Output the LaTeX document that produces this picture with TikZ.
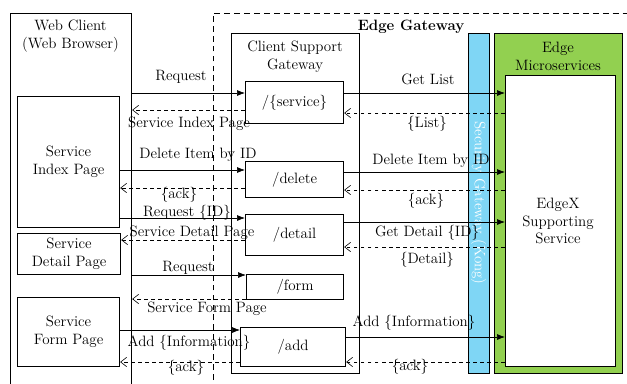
\documentclass[tikz,border=0pt]{standalone}
\usepackage{tikz}
\usetikzlibrary{arrows.meta}

\definecolor{secblue}{RGB}{127,214,245}
\definecolor{msgreen}{RGB}{146,208,80}
\def\pxu{0.03cm}

\tikzset{
  box/.style={draw,line width=1pt,fill=white,anchor=north west,inner sep=0pt},
  req/.style={-{Latex[length=2.4mm,width=1.8mm]},line width=0.6pt},
  resp/.style={-{Straight Barb[length=1.8mm,width=2.8mm]},dashed,line width=0.5pt},
  lbl/.style={inner sep=0pt,align=center}
}

\begin{document}
\begin{tikzpicture}[x=0.03cm,y=-0.03cm,font=\fontsize{12.8}{15.3}\selectfont]
 \useasboundingbox (0,0) rectangle (627,383);

 % web client
 \node[box,minimum width=121*\pxu,minimum height=380*\pxu] (client) at (10,13) {};
 \node[lbl] (clienttitle) at (70.5,36) {Web Client\\(Web Browser)};

 % edge gateway
 \draw[dash pattern=on 5pt off 3.5pt,line width=0.8pt] (213,400) -- (213,13) -- (640,13);
 \node[lbl,font=\fontsize{12.8}{15.3}\selectfont\bfseries] (egtitle) at (411,27) {Edge Gateway};

 % client support gateway
 \node[box,minimum width=128*\pxu,minimum height=340*\pxu] (csg) at (231,33) {};
 \node[lbl] (csgtitle) at (295,57) {Client Support\\Gateway};

 % security gateway
 \node[box,fill=secblue,minimum width=21*\pxu,minimum height=340*\pxu] (sec) at (468,33) {};
 \node[lbl,rotate=-90,white] (sectitle) at (478.5,203) {Security Gateway (Kong)};

 % edge microservices
 \node[box,fill=msgreen,minimum width=128*\pxu,minimum height=340*\pxu] (edge) at (494,33) {};
 \node[lbl] (edgetitle) at (558,56.5) {Edge\\Microservices};
 \node[box,minimum width=110*\pxu,minimum height=291*\pxu] (ms) at (505,75) {};
 \node[lbl] (mstitle) at (558,221) {EdgeX\\Supporting\\Service};

 % pages
 \node[box,minimum width=102*\pxu,minimum height=131*\pxu] (sip) at (17,96) {};
 \node[lbl] at (sip.center) {Service\\Index Page};
 \node[box,minimum width=103*\pxu,minimum height=41*\pxu] (sdp) at (17,233) {};
 \node[lbl] at (sdp.center) {Service\\Detail Page};
 \node[box,minimum width=102*\pxu,minimum height=69*\pxu] (sfp) at (17,297) {};
 \node[lbl] at (sfp.center) {Service\\Form Page};

 % gateway routes
 \node[box,minimum width=98*\pxu,minimum height=42*\pxu] (svc) at (245,81) {};
 \node[lbl] at (svc.center) {/\{service\}};
 \node[box,minimum width=98*\pxu,minimum height=36*\pxu] (del) at (245,161) {};
 \node[lbl] at (del.center) {/delete};
 \node[box,minimum width=98*\pxu,minimum height=41*\pxu] (det) at (245,214) {};
 \node[lbl] at (det.center) {/detail};
 \node[box,minimum width=97*\pxu,minimum height=25*\pxu] (form) at (246,274) {};
 \node[lbl] at (form.center) {/form};
 \node[box,minimum width=105*\pxu,minimum height=39*\pxu] (add) at (240,327) {};
 \node[lbl] at (add.center) {/add};

 % service list
 \draw[req] (client.east |- 0,93) -- (svc.west |- 0,93);
 \node[lbl] at (181,77) {Request};
 \draw[resp] (svc.west |- 0,110) -- (client.east |- 0,110);
 \node[lbl] at (189,124) {Service Index Page};
 \draw[req] (svc.east |- 0,93) -- (ms.west |- 0,93);
 \node[lbl] at (428,79) {Get List};
 \draw[resp] (ms.west |- 0,113) -- (svc.east |- 0,113);
 \node[lbl] at (427,124) {\{List\}};

 % delete
 \draw[req] (sip.east |- 0,170) -- (del.west |- 0,170);
 \node[lbl] at (198,155) {Delete Item by ID};
 \draw[resp] (del.west |- 0,188) -- (sip.east |- 0,188);
 \node[lbl] at (179,195) {\{ack\}};
 \draw[req] (del.east |- 0,172) -- (ms.west |- 0,172);
 \node[lbl] at (431,161) {Delete Item by ID};
 \draw[resp] (ms.west |- 0,190) -- (del.east |- 0,190);
 \node[lbl] at (426,201) {\{ack\}};

 % detail
 \draw[req] (sip.east |- 0,218) -- (det.west |- 0,218);
 \node[lbl] at (187,213) {Request \{ID\}};
 \draw[resp] (det.west |- 0,240) -- (sdp.east |- 0,240);
 \node[lbl] at (192,233) {Service Detail Page};
 \draw[req] (det.east |- 0,222) -- (ms.west |- 0,222);
 \node[lbl] at (427,233) {Get Detail \{ID\}};
 \draw[resp] (ms.west |- 0,247) -- (det.east |- 0,247);
 \node[lbl] at (427,260) {\{Detail\}};

 % form
 \draw[req] (client.east |- 0,275) -- (form.west |- 0,275);
 \node[lbl] at (188,268) {Request};
 \draw[resp] (form.west |- 0,299) -- (client.east |- 0,299);
 \node[lbl] at (207,309) {Service Form Page};

 % add
 \draw[req] (sfp.east |- 0,330) -- (add.west |- 0,330);
 \node[lbl] at (189,343) {Add \{Information\}};
 \draw[resp] (add.west |- 0,362) -- (sfp.east |- 0,362);
 \node[lbl] at (186,368) {\{ack\}};
 \draw[req] (add.east |- 0,337) -- (ms.west |- 0,337);
 \node[lbl] at (414,323) {Add \{Information\}};
 \draw[resp] (ms.west |- 0,362) -- (add.east |- 0,362);
 \node[lbl] at (410,367) {\{ack\}};
\end{tikzpicture}
\end{document}
